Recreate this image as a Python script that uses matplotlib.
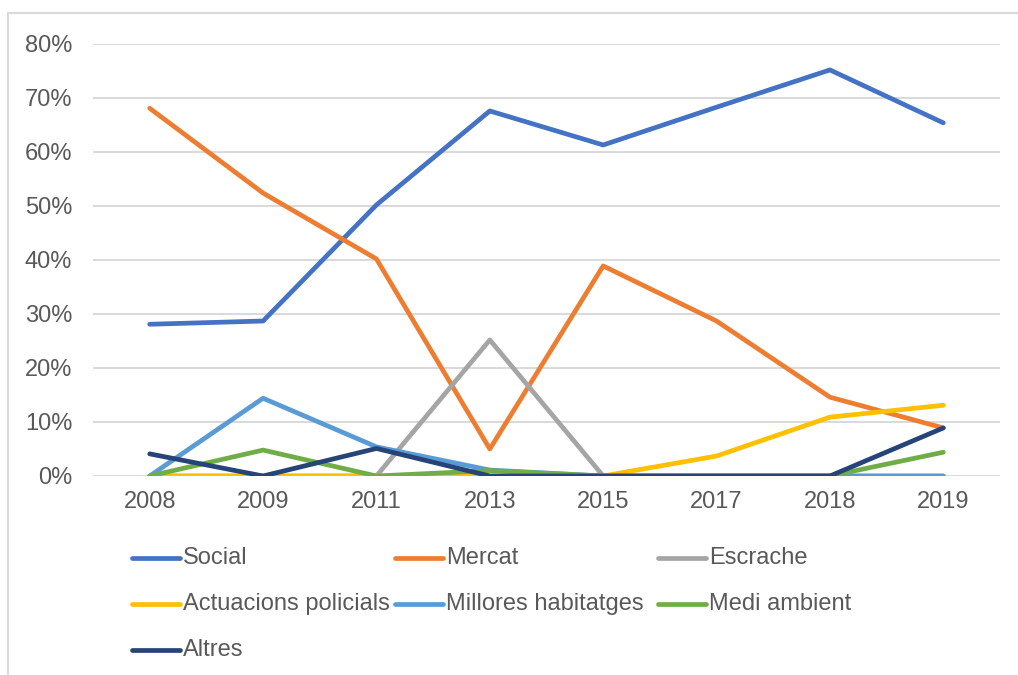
import matplotlib.pyplot as plt
from matplotlib.lines import Line2D
from matplotlib.patches import Rectangle
from matplotlib.ticker import PercentFormatter

plt.rcParams['font.family'] = ['Liberation Sans', 'DejaVu Sans']

# Data (shares, %)
years = ['2008', '2009', '2011', '2013', '2015', '2017', '2018', '2019']
social = [28.1, 28.7, 50.2, 67.6, 61.3, 68.3, 75.2, 65.4]
mercat = [68.1, 52.4, 40.2, 5.0, 38.9, 28.7, 14.6, 8.9]
escrache = [0, 0, 0, 25.2, 0, 0, 0, 0]
actuacions = [0, 0, 0, 0, 0, 3.7, 10.9, 13.1]
millores = [0, 14.4, 5.4, 1.1, 0, 0, 0, 0]
medi = [0, 4.8, 0, 1.0, 0, 0, 0, 4.4]
altres = [4.1, 0, 5.1, 0, 0, 0, 0, 8.9]

names = ['Social', 'Mercat', 'Escrache', 'Actuacions policials',
         'Millores habitatges', 'Medi ambient', 'Altres']
series = [social, mercat, escrache, actuacions, millores, medi, altres]
colors = ['#4472C4', '#ED7D31', '#A5A5A5', '#FFC000', '#5B9BD5', '#70AD47', '#264478']

W, H = 1018, 675
fig = plt.figure(figsize=(W / 100, H / 100), dpi=100)
ax = fig.add_axes([93 / W, 1 - 476 / H, (1000 - 93) / W, (476 - 44) / H])

x = range(len(years))
for vals, c, n in zip(series, colors, names):
    ax.plot(x, [v / 100 for v in vals], color=c, lw=3.4, label=n,
            solid_capstyle='round', solid_joinstyle='round', zorder=3)

ax.set_xlim(-0.5, len(years) - 0.5)
ax.set_ylim(0, 0.8)
ax.set_yticks([i / 10 for i in range(9)])
ax.yaxis.set_major_formatter(PercentFormatter(1.0, decimals=0))
ax.set_xticks(list(x))
ax.set_xticklabels(years)
ax.grid(axis='y', color='#D9D9D9', lw=1.4, zorder=0)
ax.tick_params(length=0, labelsize=17, labelcolor='#595959')
ax.tick_params(axis='y', pad=15)
ax.tick_params(axis='x', pad=11)
for s in ax.spines.values():
    s.set_visible(False)

# legend drawn as in the Excel layout: 3 evenly spaced columns
for i, (n, c) in enumerate(zip(names, colors)):
    col, row = i % 3, i // 3
    x0 = 132 + 263 * col
    y0 = 558 + 46 * row
    fig.add_artist(Line2D([x0 / W, (x0 + 48) / W], [1 - y0 / H, 1 - y0 / H],
                          color=c, lw=3.4, solid_capstyle='round'))
    fig.text((x0 + 51) / W, 1 - y0 / H, n, fontsize=17, color='#595959',
             va='center', ha='left')

# chart area border
fig.add_artist(Rectangle((8 / W, -0.05), 1.2, 1.05 - 13 / H, fill=False,
                         edgecolor='#D9D9D9', lw=1.5))

fig.savefig('out.png', dpi=100)
